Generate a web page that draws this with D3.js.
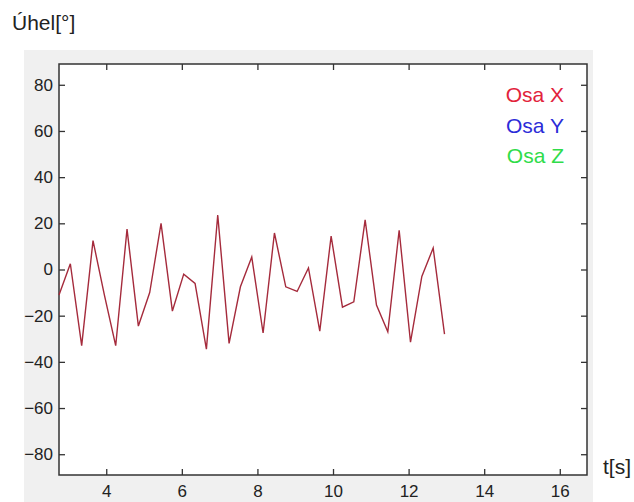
<!DOCTYPE html>
<html>
<head>
<meta charset="utf-8">
<script src="https://cdn.jsdelivr.net/npm/d3@7"></script>
<style>
  body { margin: 0; background: #fff; }
  svg { display: block; font-family: "Liberation Sans", Arial, sans-serif; }
  .axis text { font-size: 17px; fill: #222; }
  .axis line { stroke: #333; stroke-width: 1.3; }
  .axis path { display: none; }
</style>
</head>
<body>
<div id="chart"></div>
<script>
// time samples [s]
var timeS = [2.75, 3.05, 3.35, 3.65, 3.95, 4.25, 4.55, 4.85, 5.15, 5.45,
             5.75, 6.05, 6.35, 6.65, 6.95, 7.25, 7.55, 7.85, 8.15, 8.45,
             8.75, 9.05, 9.35, 9.65, 9.95, 10.25, 10.55, 10.85, 11.15, 11.45,
             11.75, 12.05, 12.35, 12.65, 12.95];

// angle around X axis [deg]
var osaX = [-11, 2.5, -33, 12.5, -11, -33, 17.5, -24.5, -10, 20,
            -18, -2, -6, -34.5, 23.6, -32, -7.5, 5.4, -27.5, 15.8,
            -7.5, -9.5, 0.7, -26.7, 14.5, -16.3, -14, 21.5, -15.4, -27,
            17, -31.5, -3, 9.3, -28];

var legendLabels = ["Osa X", "Osa Y", "Osa Z"];
var legendColors = ["#e2233b", "#2c2cd8", "#2fdc4a"];

var xTicks = [4, 6, 8, 10, 12, 14, 16];
var yTicks = [-80, -60, -40, -20, 0, 20, 40, 60, 80];

var W = 634, H = 502;
var plot = {left: 59, top: 64, right: 587, bottom: 475};

var svg = d3.select("#chart").append("svg")
  .attr("width", W)
  .attr("height", H);

// grey figure background
svg.append("rect")
  .attr("x", 24).attr("y", 50)
  .attr("width", 593 - 24).attr("height", H - 50)
  .attr("fill", "#f0f0f0");

// white axes area
svg.append("rect")
  .attr("x", plot.left).attr("y", plot.top)
  .attr("width", plot.right - plot.left).attr("height", plot.bottom - plot.top)
  .attr("fill", "#fff");

// Scales
var x = d3.scaleLinear()
  .domain([2.75, 16.72])
  .range([plot.left, plot.right]);

var y = d3.scaleLinear()
  .domain([-89, 89])
  .range([plot.bottom, plot.top]);

// Axes (ticks inside the box, like MATLAB)
svg.append("g")
  .attr("class", "axis")
  .attr("transform", "translate(0," + plot.bottom + ")")
  .call(d3.axisBottom(x).tickValues(xTicks).tickSizeInner(-6).tickSizeOuter(0).tickPadding(10));

svg.append("g")
  .attr("class", "axis")
  .attr("transform", "translate(0," + plot.top + ")")
  .call(d3.axisTop(x).tickValues(xTicks).tickSizeInner(-6).tickSizeOuter(0).tickFormat(""));

svg.append("g")
  .attr("class", "axis")
  .attr("transform", "translate(" + plot.left + ",0)")
  .call(d3.axisLeft(y).tickValues(yTicks).tickSizeInner(-6).tickSizeOuter(0).tickPadding(6));

svg.append("g")
  .attr("class", "axis")
  .attr("transform", "translate(" + plot.right + ",0)")
  .call(d3.axisRight(y).tickValues(yTicks).tickSizeInner(-6).tickSizeOuter(0).tickFormat(""));

// Box
svg.append("rect")
  .attr("x", plot.left).attr("y", plot.top)
  .attr("width", plot.right - plot.left).attr("height", plot.bottom - plot.top)
  .attr("fill", "none")
  .attr("stroke", "#333")
  .attr("stroke-width", 1.5);

// Data line
var line = d3.line()
  .x(function(d, i){ return x(timeS[i]); })
  .y(function(d){ return y(d); });

svg.append("path")
  .datum(osaX)
  .attr("fill", "none")
  .attr("stroke", "#a52b3c")
  .attr("stroke-width", 1.4)
  .attr("stroke-linejoin", "miter")
  .attr("d", line);

// Legend
svg.selectAll(".legend")
  .data(legendLabels)
  .enter()
  .append("text")
  .attr("class", "legend")
  .attr("x", 564)
  .attr("y", function(d, i){ return 102 + i * 30.5; })
  .attr("text-anchor", "end")
  .style("font-size", "21px")
  .attr("fill", function(d, i){ return legendColors[i]; })
  .text(function(d){ return d; });

// Axis labels
svg.append("text")
  .attr("x", 12)
  .attr("y", 30)
  .style("font-size", "21px")
  .attr("fill", "#222")
  .text("Úhel[°]");

svg.append("text")
  .attr("x", 603)
  .attr("y", 474)
  .style("font-size", "21px")
  .attr("fill", "#222")
  .text("t[s]");
</script>
</body>
</html>
